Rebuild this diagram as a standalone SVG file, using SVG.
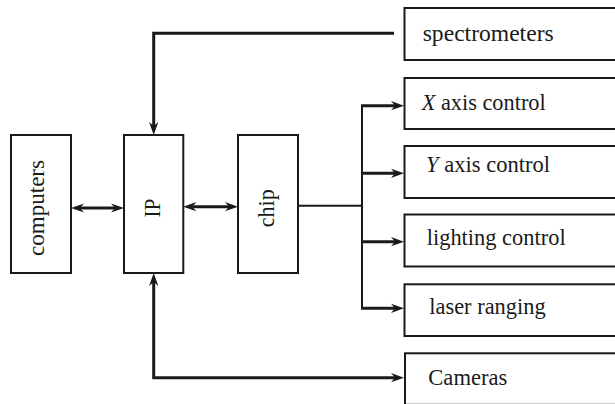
<svg xmlns="http://www.w3.org/2000/svg" width="615" height="404" viewBox="0 0 615 404">
  <style>
    .box { fill: #fff; stroke: #1a1a1a; stroke-width: 2; }
    .lbl { font-family: "Liberation Serif", "Times New Roman", serif; font-size: 23.5px; fill: #1a1a1a; }
    .conn { fill: none; stroke: #1a1a1a; stroke-width: 3; stroke-linejoin: miter; }
    .thin { fill: none; stroke: #1a1a1a; stroke-width: 2; }
  </style>
  <defs>
    <marker id="arr" markerUnits="userSpaceOnUse" markerWidth="14" markerHeight="10" viewBox="0 -5 14 10" refX="4" refY="0" orient="auto-start-reverse" overflow="visible">
      <path d="M13,0 L0,-4.6 L4,0 L0,4.6 Z" fill="#1a1a1a"/>
    </marker>
  </defs>
  <rect width="615" height="404" fill="#fff"/>

  <g id="connectors">
    <path class="conn" d="M394,33.3 L153.7,33.3 L153.7,126" marker-end="url(#arr)"/>
    <path class="conn" d="M80,208 L115,208" marker-start="url(#arr)" marker-end="url(#arr)"/>
    <path class="conn" d="M192.3,206.7 L229,206.7" marker-start="url(#arr)" marker-end="url(#arr)"/>
    <path class="conn" d="M153.7,282 L153.7,377.7 L395,377.7" marker-start="url(#arr)" marker-end="url(#arr)"/>
    <path class="thin" d="M298,205.7 L362,205.7"/>
    <path class="thin" d="M362,105 L362,309"/>
    <path class="conn" d="M361,105.7 L395,105.7" marker-end="url(#arr)"/>
    <path class="conn" d="M361,173.3 L395,173.3" marker-end="url(#arr)"/>
    <path class="conn" d="M361,241.7 L395,241.7" marker-end="url(#arr)"/>
    <path class="conn" d="M361,308.3 L395,308.3" marker-end="url(#arr)"/>
  </g>

  <g id="computers">
    <rect class="box" x="11" y="135" width="60" height="138"/>
    <text class="lbl" transform="translate(43.5,208) rotate(-90)" text-anchor="middle" textLength="96" lengthAdjust="spacingAndGlyphs">computers</text>
  </g>
  <g id="ip">
    <rect class="box" x="124" y="135" width="59.3" height="138"/>
    <text class="lbl" transform="translate(160,208) rotate(-90)" text-anchor="middle" textLength="19" lengthAdjust="spacingAndGlyphs">IP</text>
  </g>
  <g id="chip">
    <rect class="box" x="238" y="135" width="60" height="138"/>
    <text class="lbl" transform="translate(274,208.3) rotate(-90)" text-anchor="middle" textLength="38" lengthAdjust="spacingAndGlyphs">chip</text>
  </g>

  <g id="spectrometers">
    <rect class="box" x="404.5" y="8" width="220" height="52"/>
    <text class="lbl" x="422.7" y="40.7" textLength="131" lengthAdjust="spacingAndGlyphs">spectrometers</text>
  </g>
  <g id="x-axis-control">
    <rect class="box" x="404.5" y="78" width="220" height="51"/>
    <text class="lbl" x="421.7" y="110" textLength="124" lengthAdjust="spacingAndGlyphs"><tspan font-style="italic">X</tspan> axis control</text>
  </g>
  <g id="y-axis-control">
    <rect class="box" x="404.5" y="146" width="220" height="52"/>
    <text class="lbl" x="426" y="171.7" textLength="124" lengthAdjust="spacingAndGlyphs"><tspan font-style="italic">Y</tspan> axis control</text>
  </g>
  <g id="lighting-control">
    <rect class="box" x="404.5" y="214.5" width="220" height="52"/>
    <text class="lbl" x="426.7" y="245" textLength="139" lengthAdjust="spacingAndGlyphs">lighting control</text>
  </g>
  <g id="laser-ranging">
    <rect class="box" x="404.5" y="284.3" width="220" height="51.7"/>
    <text class="lbl" x="429.3" y="314" textLength="116.3" lengthAdjust="spacingAndGlyphs">laser ranging</text>
  </g>
  <g id="cameras">
    <rect class="box" x="405" y="353.3" width="220" height="51.5"/>
    <text class="lbl" x="428.3" y="385" textLength="79" lengthAdjust="spacingAndGlyphs">Cameras</text>
  </g>
</svg>
